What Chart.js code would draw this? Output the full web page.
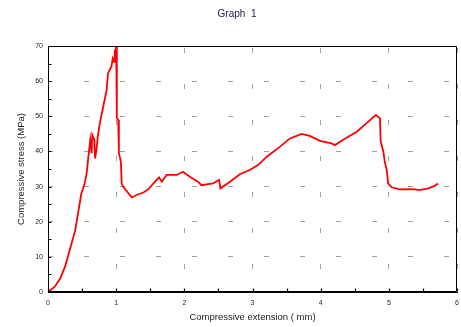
<!DOCTYPE html>
<html>
<head>
<meta charset="utf-8">
<script src="https://cdn.jsdelivr.net/npm/chart.js@4/dist/chart.umd.min.js"></script>
<style>
  html, body { margin: 0; padding: 0; background: #fff; }
  canvas { display: block; }
</style>
</head>
<body>
<canvas id="c" width="461" height="327"></canvas>
<script>
// Compressive extension (mm)
const extension = [
  0, 0.10, 0.18, 0.25, 0.32, 0.40, 0.44, 0.49, 0.54, 0.57, 0.59, 0.62, 0.64, 0.65, 0.68, 0.69,
  0.71, 0.73, 0.76, 0.81, 0.86, 0.88, 0.93, 0.95, 0.97, 0.98, 0.99, 1.00, 1.01, 1.03, 1.04,
  1.07, 1.08, 1.10, 1.18, 1.23, 1.30, 1.40, 1.47, 1.57, 1.63, 1.67, 1.74, 1.89, 1.98, 2.08,
  2.20, 2.25, 2.42, 2.51, 2.53, 2.67, 2.82, 2.96, 3.08, 3.21, 3.40, 3.55, 3.72, 3.84, 3.99,
  4.16, 4.21, 4.33, 4.53, 4.67, 4.81, 4.84, 4.87, 4.88, 4.92, 4.94, 4.97, 4.99, 5.04, 5.16,
  5.36, 5.45, 5.58, 5.67, 5.72
];
// Compressive stress (MPa)
const stress = [
  0, 1.5, 3.9, 7.2, 12.0, 17.6, 22.4, 28.1, 31.0, 34.2, 38.0, 43.3, 39.5, 44.7, 43.3, 38.0,
  40.4, 44.2, 48.0, 52.7, 57.5, 62.2, 64.1, 66.5, 65.5, 69.0, 67.5, 69.8, 49.5, 49.0, 39.5,
  37.0, 31.0, 30.0, 28.1, 26.9, 27.6, 28.3, 29.2, 31.4, 32.6, 31.4, 33.3, 33.3, 34.2, 32.8,
  31.4, 30.4, 30.9, 31.9, 29.5, 31.4, 33.6, 34.7, 36.1, 38.5, 41.3, 43.7, 45.0, 44.4, 43.0,
  42.3, 41.8, 43.3, 45.6, 48.0, 50.4, 49.9, 49.4, 42.8, 39.9, 37.1, 34.7, 30.9, 29.8, 29.2,
  29.3, 29.0, 29.5, 30.2, 30.9
];
const xTicks = [0, 1, 2, 3, 4, 5, 6];
const yTicks = [0, 10, 20, 30, 40, 50, 60, 70];

const points = extension.map((x, i) => ({ x, y: stress[i] }));

// Box round the plot plus short inward tick marks (major and half steps)
const framePlugin = {
  id: 'frame',
  afterDraw(chart) {
    const { ctx, chartArea: a, scales: { x, y } } = chart;
    ctx.save();
    ctx.strokeStyle = '#000';
    ctx.lineWidth = 1;
    const L = Math.round(a.left) + 0.5, R = Math.round(a.right) - 0.5;
    const T = Math.round(a.top) + 0.5, B = Math.round(a.bottom) - 0.5;
    ctx.beginPath();
    ctx.moveTo(L, T); ctx.lineTo(R, T); ctx.lineTo(R, B); ctx.lineTo(L, B); ctx.closePath();
    ctx.stroke();
    ctx.lineWidth = 1.2;
    ctx.beginPath();
    for (let v = yTicks[0]; v <= yTicks[yTicks.length - 1]; v += 5) {
      const py = Math.round(y.getPixelForValue(v)) + 0.5;
      ctx.moveTo(L, py); ctx.lineTo(L + 3, py);
    }
    for (let v = xTicks[0]; v <= xTicks[xTicks.length - 1]; v += 0.5) {
      const px = Math.round(x.getPixelForValue(v)) + 0.5;
      ctx.moveTo(px, B); ctx.lineTo(px, B - 3);
    }
    ctx.stroke();
    ctx.restore();
  }
};

// Chart heading
const headingPlugin = {
  id: 'heading',
  afterDraw(chart) {
    const ctx = chart.ctx;
    ctx.save();
    ctx.font = '10px "Liberation Sans", Arial, sans-serif';
    ctx.fillStyle = '#1c1c40';
    ctx.textAlign = 'center';
    ctx.textBaseline = 'middle';
    ctx.fillText('Graph  1', 237, 14);
    ctx.restore();
  }
};

const gridColor = 'rgba(160, 158, 140, 0.95)';
const tickFont = { family: '"Liberation Sans", Arial, sans-serif', size: 7 };
const titleFont = { family: '"Liberation Sans", Arial, sans-serif', size: 9.5 };

const chart = new Chart(document.getElementById('c'), {
  type: 'scatter',
  data: {
    datasets: [{
      data: points,
      showLine: true,
      borderColor: '#ff0000',
      borderWidth: 1.8,
      pointRadius: 0,
      tension: 0,
      fill: false
    }]
  },
  options: {
    responsive: false,
    animation: false,
    devicePixelRatio: 1,
    layout: { padding: { top: 46, right: 4, left: 0, bottom: 0 } },
    plugins: { legend: { display: false }, tooltip: { enabled: false }, title: { display: false } },
    scales: {
      x: {
        type: 'linear',
        min: xTicks[0],
        max: xTicks[xTicks.length - 1],
        afterBuildTicks(scale) { scale.ticks = xTicks.map(v => ({ value: v })); },
        afterFit(scale) { scale.height = 35; scale.paddingRight = 0; scale.paddingLeft = 0; },
        ticks: { font: tickFont, color: '#222', padding: 7, maxRotation: 0, autoSkip: false },
        grid: { color: gridColor, lineWidth: 1, drawTicks: false },
        border: { color: '#000', width: 1, dash: [5, 31], dashOffset: -2 },
        title: {
          display: true,
          text: 'Compressive extension ( mm)',
          font: titleFont,
          color: '#222',
          padding: { top: 0, bottom: 3.5 }
        }
      },
      y: {
        type: 'linear',
        min: yTicks[0],
        max: yTicks[yTicks.length - 1],
        afterBuildTicks(scale) { scale.ticks = yTicks.map(v => ({ value: v })); },
        afterFit(scale) { scale.width = 48; scale.paddingTop = 0; scale.paddingBottom = 0; },
        ticks: { font: tickFont, color: '#222', padding: 5, autoSkip: false },
        grid: { color: gridColor, lineWidth: 1, drawTicks: false },
        border: { color: '#000', width: 1, dash: [5, 31], dashOffset: 1 },
        title: {
          display: true,
          text: 'Compressive stress (MPa)',
          font: titleFont,
          color: '#222',
          padding: { top: 16, bottom: 0 }
        }
      }
    }
  },
  plugins: [framePlugin, headingPlugin]
});
</script>
</body>
</html>
